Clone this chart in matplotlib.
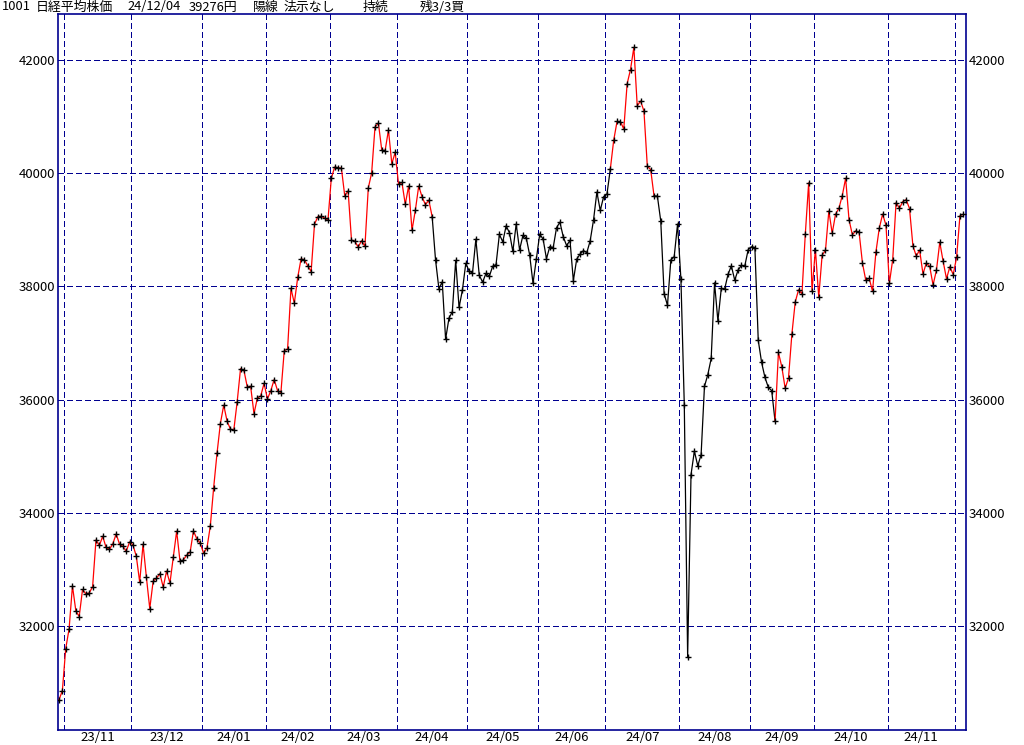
import matplotlib
matplotlib.use("Agg")
import matplotlib.pyplot as plt

plt.rcParams['font.family'] = ['Noto Sans CJK JP', 'DejaVu Sans']

# daily closes, one list per month (trading days only)
month_labels = ['23/10', '23/11', '23/12', '24/01', '24/02', '24/03', '24/04',
                '24/05', '24/06', '24/07', '24/08', '24/09', '24/10', '24/11', '24/12']

closes = [
    [30697, 30859],
    [31602, 31950, 32708, 32272, 32166, 32646, 32568, 32585, 32696, 33520,
     33424, 33585, 33388, 33354, 33452, 33626, 33448, 33408, 33321, 33487],
    [33432, 33231, 32776, 33446, 32858, 32308, 32792, 32844, 32926, 32686,
     32971, 32759, 33219, 33676, 33140, 33169, 33254, 33306, 33681, 33540, 33464],
    [33288, 33377, 33763, 34442, 35050, 35577, 35902, 35619, 35478, 35466,
     35963, 36547, 36518, 36226, 36236, 35751, 36027, 36066, 36287],
    [36011, 36158, 36354, 36161, 36120, 36863, 36897, 37964, 37703, 38158,
     38487, 38470, 38364, 38262, 39099, 39234, 39240, 39208, 39166],
    [39911, 40109, 40098, 40091, 39599, 39689, 38820, 38798, 38696, 38807,
     38708, 39740, 40004, 40816, 40888, 40414, 40398, 40763, 40168, 40369],
    [39803, 39839, 39452, 39773, 38992, 39347, 39773, 39582, 39443, 39524,
     39233, 38471, 37962, 38080, 37068, 37439, 37552, 38460, 37628, 37935, 38406],
    [38274, 38236, 38835, 38202, 38074, 38229, 38179, 38356, 38386, 38920,
     38787, 39070, 38947, 38617, 39103, 38646, 38900, 38855, 38557, 38054, 38488],
    [38923, 38837, 38490, 38704, 38684, 39038, 39135, 38877, 38720, 38815,
     38102, 38482, 38571, 38633, 38596, 38805, 39173, 39667, 39342, 39583],
    [39631, 40075, 40581, 40914, 40912, 40781, 41580, 41832, 42224, 41191,
     41275, 41098, 40126, 40064, 39599, 39594, 39155, 37870, 37667, 38469,
     38526, 39102],
    [38126, 35910, 31458, 34675, 35090, 34831, 35025, 36233, 36442, 36727,
     38063, 37389, 37964, 37952, 38211, 38364, 38110, 38289, 38372, 38363, 38648],
    [38701, 38686, 37048, 36657, 36391, 36216, 36159, 35620, 36833, 36582,
     36203, 36380, 37155, 37724, 37941, 37870, 38926, 39830, 37920],
    [38652, 37809, 38552, 38636, 39333, 38938, 39277, 39381, 39606, 39911,
     39180, 38911, 38982, 38955, 38412, 38105, 38143, 37914, 38606, 39028,
     39277, 39081],
    [38054, 38475, 39481, 39381, 39500, 39533, 39376, 38722, 38536, 38643,
     38221, 38414, 38352, 38026, 38284, 38780, 38442, 38135, 38349, 38208],
    [38513, 39249, 39276],
]

# position state changes: (month, trading day within month, state)
start_state = 'hold'
state_changes = [('24/04', 10, 'flat'), ('24/07', 1, 'hold'),
                 ('24/07', 14, 'flat'), ('24/09', 7, 'hold')]

y_ticks = [32000, 34000, 36000, 38000, 40000, 42000]

header = [('1001', 2), ('日経平均株価', 36), ('24/12/04', 127), ('39276円', 189),
          ('陽線', 253), ('法示なし', 283), ('持続', 363), ('残3/3買', 420)]

# ---------------------------------------------------------------
navy = '#000090'
state_color = {'hold': '#ff0000', 'flat': 'black'}

y = []
month_start = []
for m in closes:
    month_start.append(len(y))
    y.extend(m)
x = list(range(len(y)))

W, H = 1024, 745
fig = plt.figure(figsize=(W / 100, H / 100), dpi=100)
ax = fig.add_axes([58 / W, (H - 730) / H, (966 - 58) / W, (730 - 14) / H])

# colored price line, split where the position state changes
breaks = [(0, start_state)]
for mon, d, st in state_changes:
    breaks.append((month_start[month_labels.index(mon)] + d, st))
breaks.append((len(y) - 1, None))
for (a, st), (b, _) in zip(breaks[:-1], breaks[1:]):
    ax.plot(x[a:b + 1], y[a:b + 1], color=state_color[st], lw=0.9, zorder=3)
ax.plot(x, y, ls='none', marker='+', ms=4, mew=1.0, color='black', zorder=4)

# grid
for s in month_start[1:]:
    ax.axvline(s - 0.5, color=navy, lw=0.75, dashes=(5, 3), zorder=1,
               antialiased=False)
for t in y_ticks:
    ax.axhline(t, color=navy, lw=0.75, dashes=(5, 3), zorder=1,
               antialiased=False)

ax.set_xlim(-0.3, 269.8)
ax.set_ylim(30163, 42813)

ax.set_yticks(y_ticks)
ax.set_yticklabels([str(t) for t in y_ticks])
ax.tick_params(axis='y', which='both', length=0, pad=2, labelsize=9.5,
               left=True, right=True, labelleft=True, labelright=True)

centers = []
labels = []
for i in range(1, len(month_labels) - 1):
    centers.append((month_start[i] + month_start[i + 1] - 1) / 2)
    labels.append(month_labels[i])
ax.set_xticks(centers)
ax.set_xticklabels(labels)
ax.tick_params(axis='x', length=0, pad=0.5, labelsize=9.5)

for sp in ax.spines.values():
    sp.set_color(navy)
    sp.set_linewidth(1.2)

for txt, px in header:
    fig.text(px / W, 1 - 7 / H, txt, fontsize=9.3, va='center', ha='left')

fig.savefig('out.png', dpi=100)
